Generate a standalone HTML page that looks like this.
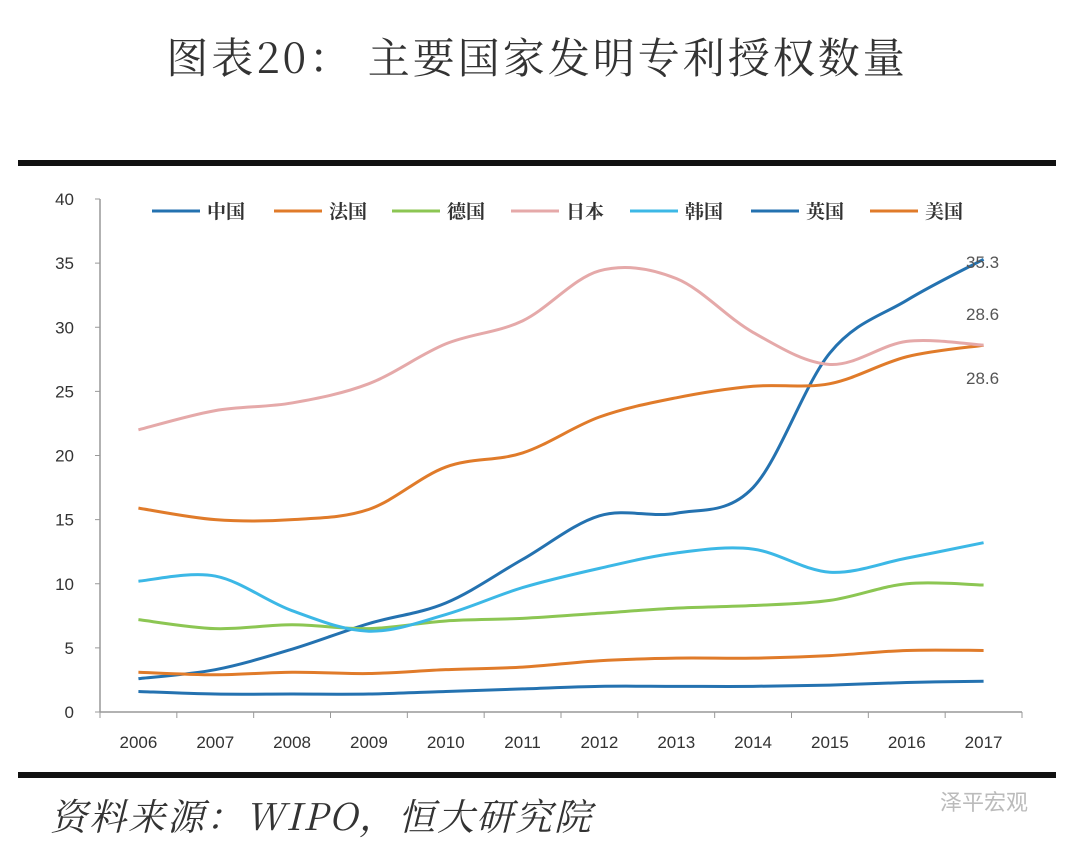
<!DOCTYPE html>
<html><head><meta charset="utf-8">
<style>
body{margin:0;width:1080px;height:848px;background:#fff;overflow:hidden;font-family:"Liberation Sans","Noto Sans CJK SC",sans-serif;}
</style></head>
<body>
<svg width="1080" height="848" viewBox="0 0 1080 848">
<text x="537" y="73" text-anchor="middle" font-size="42" letter-spacing="3" fill="#333" font-family="'Noto Serif CJK SC','Noto Sans CJK SC',serif">图表20： 主要国家发明专利授权数量</text>
<rect x="18" y="160" width="1038" height="6" fill="#111"/>
<rect x="18" y="772" width="1038" height="6" fill="#111"/>
<g id="axes"></g>
<g id="series"></g>
<g id="legend"></g>
<text x="966" y="268" font-size="17" fill="#555">35.3</text>
<text x="966" y="320" font-size="17" fill="#555">28.6</text>
<text x="966" y="384" font-size="17" fill="#555">28.6</text>
<text x="50" y="830" font-size="37" font-style="italic" letter-spacing="2" fill="#333" font-family="'Noto Serif CJK SC','Noto Sans CJK SC',serif">资料来源：WIPO，恒大研究院</text>
<text x="940" y="810" font-size="22" fill="#bbb">泽平宏观</text>
</svg>
<script>
const categories=["2006","2007","2008","2009","2010","2011","2012","2013","2014","2015","2016","2017"];
const yTicks=[0,5,10,15,20,25,30,35,40];
const seriesNames=["中国","法国","德国","日本","韩国","英国","美国"];
const seriesColors=["#2472b0","#e07b2a","#8cc653","#e5a9a9","#3cb8e6","#2472b0","#e07b2a"];
const china=[2.6,3.3,4.9,6.9,8.5,11.9,15.3,15.5,17.5,28.0,32.1,35.3];
const france=[15.9,15.0,15.0,15.8,19.1,20.2,23.0,24.5,25.4,25.6,27.7,28.6];
const germany=[7.2,6.5,6.8,6.5,7.1,7.3,7.7,8.1,8.3,8.7,10.0,9.9];
const japan=[22.0,23.5,24.1,25.6,28.7,30.5,34.4,33.8,29.6,27.1,28.9,28.6];
const korea=[10.2,10.6,7.9,6.3,7.6,9.7,11.2,12.4,12.7,10.9,12.0,13.2];
const uk=[1.6,1.4,1.4,1.4,1.6,1.8,2.0,2.0,2.0,2.1,2.3,2.4];
const usa=[3.1,2.9,3.1,3.0,3.3,3.5,4.0,4.2,4.2,4.4,4.8,4.8];
const allSeries=[china,france,germany,japan,korea,uk,usa];
const NS="http://www.w3.org/2000/svg";
const L=100,R=1022,T=199,B=712;
const bw=(R-L)/categories.length;
const xs=i=>L+bw*(i+0.5);
const ys=v=>B-(v/40)*(B-T);
function mk(t,a,p){const e=document.createElementNS(NS,t);for(const k in a)e.setAttribute(k,a[k]);p.appendChild(e);return e;}
const ax=document.getElementById('axes');
let e=mk('line',{x1:L,y1:T,x2:L,y2:B,stroke:'#999','stroke-width':1.5},ax);


e=mk('line',{x1:L,y1:B,x2:R,y2:B,stroke:'#999','stroke-width':1.5},ax);


yTicks.forEach(v=>{
 mk('line',{x1:L-5,y1:ys(v),x2:L,y2:ys(v),stroke:'#999'},ax);
 const t=mk('text',{x:L-26,y:ys(v)+6,'text-anchor':'end','font-size':17,fill:'#333'},ax);t.textContent=v;
 
 
});
for(let i=0;i<=categories.length;i++)mk('line',{x1:L+bw*i,y1:B,x2:L+bw*i,y2:B+6,stroke:'#999'},ax);
categories.forEach((c,i)=>{
 const t=mk('text',{x:xs(i),y:B+36,'text-anchor':'middle','font-size':17,fill:'#333'},ax);t.textContent=c;
 
 
});
function path(d){
 const p=d.map((v,i)=>[xs(i),ys(v)]);
 let s=`M${p[0][0]},${p[0][1]}`;
 for(let i=0;i<p.length-1;i++){
  const p0=p[i-1]||p[i],p1=p[i],p2=p[i+1],p3=p[i+2]||p2;
  const c1=[p1[0]+(p2[0]-p0[0])/6,p1[1]+(p2[1]-p0[1])/6];
  const c2=[p2[0]-(p3[0]-p1[0])/6,p2[1]-(p3[1]-p1[1])/6];
  s+=` C${c1[0]},${c1[1]} ${c2[0]},${c2[1]} ${p2[0]},${p2[1]}`;
 }
 return s;
}
const sg=document.getElementById('series');
const keys=["china","france","germany","japan","korea","uk","usa"];
allSeries.forEach((d,k)=>{
 const p=mk('path',{d:path(d),fill:'none',stroke:seriesColors[k],'stroke-width':3,'stroke-linejoin':'round'},sg);
 
 
});
const lg=document.getElementById('legend');
const lx=[152,274,392,511,630,751,870];
seriesNames.forEach((n,k)=>{
 const g=mk('g',{},lg);
 
 
 mk('line',{x1:lx[k],y1:211,x2:lx[k]+48,y2:211,stroke:seriesColors[k],'stroke-width':3},g);
 const t=mk('text',{x:lx[k]+55,y:218,'font-size':19,'font-weight':'bold',fill:'#333','font-family':"'Noto Serif CJK SC',serif"},g);t.textContent=n;
});
</script>
</body></html>
